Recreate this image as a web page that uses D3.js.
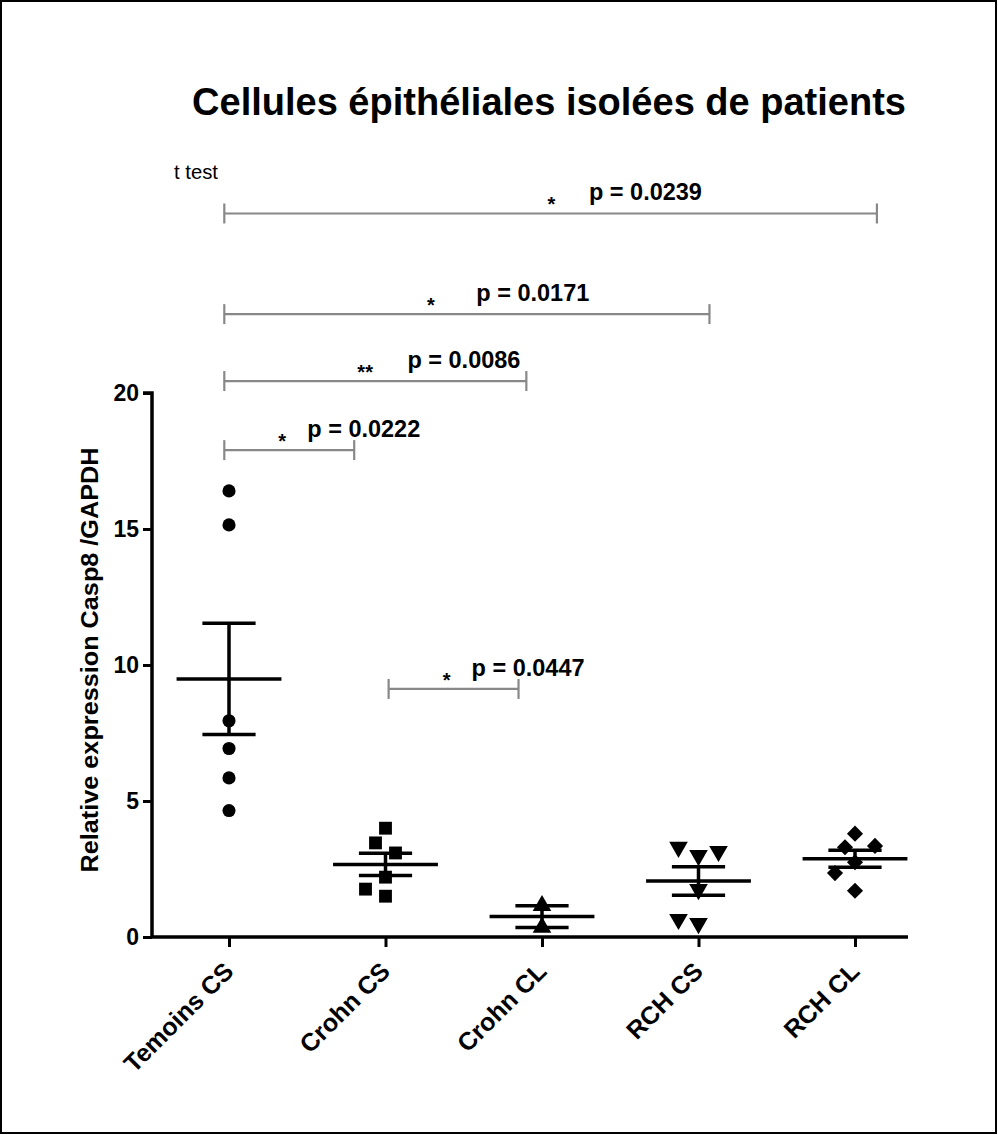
<!DOCTYPE html>
<html>
<head>
<meta charset="utf-8">
<script src="https://cdn.jsdelivr.net/npm/d3@7"></script>
<style>
  html, body { margin: 0; padding: 0; background: #fff; }
  svg { display: block; }
  text { font-family: "Liberation Sans", Arial, sans-serif; fill: #000; }
</style>
</head>
<body>
<script>
// ---------------- DATA ----------------
const categories = ["Temoins CS", "Crohn CS", "Crohn CL", "RCH CS", "RCH CL"];
const temoinsCS = [16.4, 15.15, 7.95, 6.93, 5.85, 4.65];
const crohnCS   = [4.0, 3.46, 3.09, 2.2, 1.76, 1.5];
const crohnCL   = [1.15, 0.35];
const rchCS     = [3.0, 3.3, 3.15, 1.75, 0.5, 0.65];
const rchCL     = [2.75, 3.8, 3.3, 3.35, 2.35, 1.7];
const yTicks    = [0, 5, 10, 15, 20];
const compFrom  = [0, 0, 0, 0, 1];
const compTo    = [4, 3, 2, 1, 2];
const compStars = ["*", "*", "**", "*", "*"];
const compP     = ["p = 0.0239", "p = 0.0171", "p = 0.0086", "p = 0.0222", "p = 0.0447"];
const titleText = "Cellules épithéliales isolées de patients";
const yLabel    = "Relative expression Casp8 /GAPDH";
const testLabel = "t test";

const groups = [temoinsCS, crohnCS, crohnCL, rchCS, rchCL];

// ---------------- LAYOUT ----------------
const W = 998, H = 1135;
const svg = d3.select("body").append("svg").attr("width", W).attr("height", H);

svg.append("rect").attr("x", 1).attr("y", 1).attr("width", W - 3).attr("height", H - 3)
  .attr("fill", "#fff").attr("stroke", "#000").attr("stroke-width", 2);

const x = d3.scalePoint().domain(categories).range([229, 855]);
const step = x.step();
const y = d3.scaleLinear().domain([0, 20]).range([937, 393]);
const xi = d3.scaleLinear().domain([0, 4]).range([x(categories[0]), x(categories[4])]);
const axisLeftX = 152, axisRightX = 908;

// title
svg.append("text").attr("x", 549).attr("y", 115).attr("text-anchor", "middle")
  .style("font-size", "38px").style("font-weight", "bold").text(titleText);

// y axis
const gy = svg.append("g").attr("transform", `translate(${axisLeftX},0)`)
  .call(d3.axisLeft(y).tickValues(yTicks).tickSize(9).tickPadding(4).tickFormat(d3.format("d")));
gy.select(".domain").attr("stroke", "#000").attr("stroke-width", 3.5)
  .attr("d", `M-9,${y(20)}H0V${y(0)}`);
gy.selectAll(".tick line").attr("stroke", "#000").attr("stroke-width", 3);
gy.selectAll(".tick text").style("font-size", "23px").style("font-weight", "bold")
  .style("font-family", "'Liberation Sans', Arial, sans-serif").attr("fill", "#000");

// x axis
const gx = svg.append("g").attr("transform", `translate(0,${y(0)})`)
  .call(d3.axisBottom(x).tickSize(10).tickFormat(""));
gx.select(".domain").attr("stroke", "#000").attr("stroke-width", 3.5)
  .attr("d", `M${axisLeftX},0H${axisRightX}`);
gx.selectAll(".tick line").attr("stroke", "#000").attr("stroke-width", 3);

// x labels rotated
svg.append("g").selectAll("text").data(categories).join("text")
  .attr("transform", d => `translate(${x(d) + 6},${y(0) + 36}) rotate(-45)`)
  .attr("text-anchor", "end")
  .style("font-size", "25px").style("font-weight", "bold").text(d => d);

// y label
svg.append("text").attr("transform", `translate(98,660) rotate(-90)`)
  .attr("text-anchor", "middle").style("font-size", "23px").style("font-weight", "bold")
  .attr("textLength", 425).attr("lengthAdjust", "spacingAndGlyphs")
  .text(yLabel);

// ---------------- POINTS ----------------
const symbolGens = [
  d3.symbol(d3.symbolCircle, 135),
  d3.symbol(d3.symbolSquare, 165),
  d3.symbol(d3.symbolTriangle, 150),
  d3.symbol(d3.symbolTriangle, 150),
  d3.symbol(d3.symbolSquare, 130)
];
const symbolRot = [0, 0, 0, 180, 45];

function swarm(values, cx) {
  const placed = [];
  const D = 16, s = 10;
  values.forEach(v => {
    const py = y(v);
    let off = 0;
    for (let k = 0; k < 20; k++) {
      const cands = k === 0 ? [0] : [-k * s, k * s];
      let found = null;
      for (const c of cands) {
        const ok = placed.every(p => Math.hypot(p.x - (cx + c), p.y - py) >= D);
        if (ok) { found = c; break; }
      }
      if (found !== null) { off = found; break; }
    }
    placed.push({ x: cx + off, y: py, v });
  });
  return placed;
}

groups.forEach((vals, gi) => {
  const cx = x(categories[gi]);
  const pts = swarm(vals, cx);
  const g = svg.append("g");
  g.selectAll("path").data(pts).join("path")
    .attr("d", symbolGens[gi])
    .attr("transform", d => `translate(${d.x},${d.y}) rotate(${symbolRot[gi]})`)
    .attr("fill", "#000");

  const m = d3.mean(vals);
  const sem = d3.deviation(vals) / Math.sqrt(vals.length);
  const eg = svg.append("g").attr("stroke", "#000").attr("fill", "none");
  const halfMean = step * 0.335, halfCap = step * 0.17;
  eg.append("line").attr("x1", cx - halfMean).attr("x2", cx + halfMean)
    .attr("y1", y(m)).attr("y2", y(m)).attr("stroke-width", 3.5);
  eg.append("line").attr("x1", cx).attr("x2", cx)
    .attr("y1", y(m + sem)).attr("y2", y(m - sem)).attr("stroke-width", 3.5);
  [m + sem, m - sem].forEach(v => {
    eg.append("line").attr("x1", cx - halfCap).attr("x2", cx + halfCap)
      .attr("y1", y(v)).attr("y2", y(v)).attr("stroke-width", 3.5);
  });
});

// ---------------- ANNOTATIONS ----------------
// bracket levels (data units) and end adjustments (category-step units)
const bracketLevel = [26.6, 22.9, 20.44, 17.9, 9.12];
const bracketL = [-0.03, -0.03, -0.03, -0.03, 0.02];
const bracketR = [0.14, 0.07, -0.1, -0.2, -0.15];
const starPos = [2.06, 1.29, 0.87, 0.34, 1.39];
const pPos = [2.30, 1.58, 1.14, 0.50, 1.55];

const ag = svg.append("g");
compFrom.forEach((f, i) => {
  const x1 = xi(f + bracketL[i]), x2 = xi(compTo[i] + bracketR[i]);
  const by = y(bracketLevel[i]);
  const gb = ag.append("g").attr("stroke", "#888").attr("stroke-width", 2.2).attr("fill", "none");
  gb.append("line").attr("x1", x1).attr("x2", x2).attr("y1", by).attr("y2", by);
  gb.append("line").attr("x1", x1).attr("x2", x1).attr("y1", by - 10).attr("y2", by + 10);
  gb.append("line").attr("x1", x2).attr("x2", x2).attr("y1", by - 10).attr("y2", by + 10);
  ag.append("text").attr("x", xi(starPos[i])).attr("y", by - 2).attr("text-anchor", "middle")
    .style("font-size", "20px").style("font-weight", "bold").text(compStars[i]);
  ag.append("text").attr("x", xi(pPos[i])).attr("y", by - 13)
    .style("font-size", "23px").style("font-weight", "bold")
    .attr("textLength", 113).attr("lengthAdjust", "spacingAndGlyphs")
    .text(compP[i]);
});

svg.append("text").attr("x", 174).attr("y", 179).style("font-size", "21px")
  .attr("textLength", 44).attr("lengthAdjust", "spacingAndGlyphs").text(testLabel);
</script>
</body>
</html>
